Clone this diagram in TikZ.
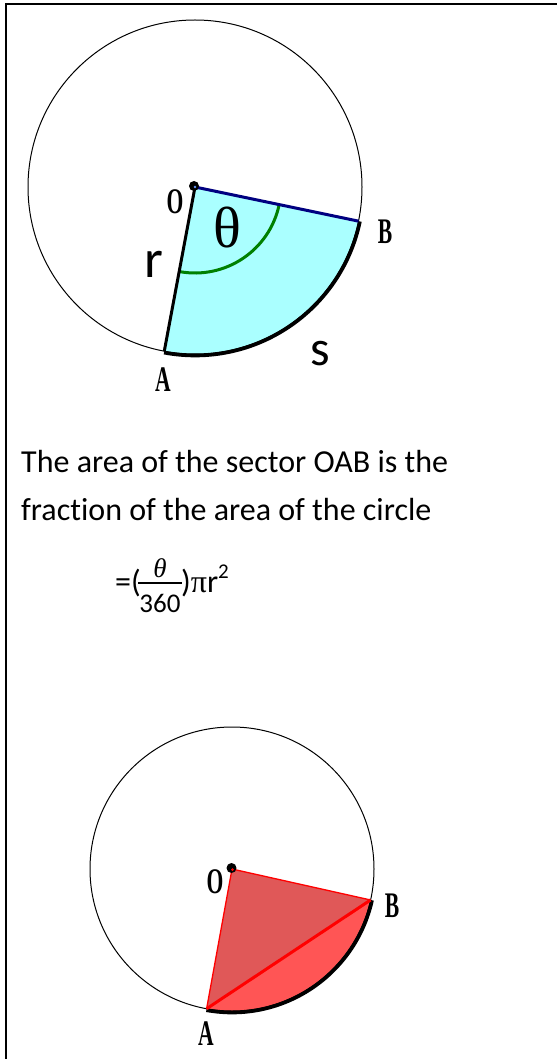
\documentclass[tikz,border=0pt]{standalone}
\usepackage{fontspec}
\usepackage{graphicx}
\usetikzlibrary{calc}
\setmainfont{Carlito}[Ligatures=NoCommon]
\newfontfamily\lblfont{Liberation Serif}
\definecolor{sectorcyan}{HTML}{AAFFFF}
\definecolor{linenavy}{HTML}{000080}
\definecolor{arcgreen}{HTML}{008000}
\definecolor{trired}{HTML}{E05858}
\definecolor{segred}{HTML}{FF5555}
\tikzset{
  ptlabel/.style={inner sep=0pt, font=\lblfont\bfseries\fontsize{36}{36}\selectfont},
  bodytext/.style={inner sep=0pt, anchor=base west, font=\fontsize{32}{32}\selectfont},
  thincircle/.style={draw=black, line width=1pt},
  arcshadow/.style={draw=black, line width=3.6pt},
}
\newcommand{\cond}[1]{\scalebox{0.6}[1]{#1}}
\begin{document}
\begin{tikzpicture}[x=1pt,y=1pt]
\useasboundingbox (0,0) rectangle (557,-1059);
% frame
\coordinate (fTL) at (6.2,-3.7);
\coordinate (fBL) at (6.2,-1059);
\coordinate (fTR) at (557,-3.7);
\draw[line width=2.3pt] (fBL) -- (fTL) -- (fTR);

% ---------- first circle ----------
\coordinate (O1) at (195,-187);
\coordinate (A1) at ($(O1)+(-100.6:167)$);
\coordinate (B1) at ($(O1)+(-11.8:167)$);
\fill[sectorcyan] (O1) -- (A1) arc[start angle=-100.6,end angle=-11.8,radius=167] -- cycle;
\draw[thincircle] (O1) circle[radius=167];
\draw[arcshadow] ($(O1)+(-100.6:168.5)$) arc[start angle=-100.6,end angle=-11.8,radius=168.5];
\draw[arcgreen, line width=3pt] ($(O1)+(-100.6:86)$) arc[start angle=-100.6,end angle=-11.8,radius=86];
\draw[black, line width=3pt] (O1) -- (A1);
\draw[linenavy, line width=3pt] (O1) -- (B1);
\fill[black] (194,-186) circle[radius=5];
\fill[sectorcyan!60!blue] (195,-187) circle[radius=1.3];
\node[ptlabel] (lO1) at (175,-202) {\cond{O}};
\node[ptlabel] (lB1) at (385,-232) {\cond{B}};
\node[ptlabel] (lA1) at (163,-380) {\cond{A}};
\node[inner sep=0pt, font=\lblfont\fontsize{58}{58}\selectfont] (th1) at (227,-228) {θ};
\node[inner sep=0pt, font=\fontsize{54}{54}\selectfont] (r1) at (154,-264) {r};
\node[inner sep=0pt, font=\fontsize{50}{50}\selectfont] (s1) at (320,-354) {s};

% ---------- text ----------
\node[bodytext] (t1) at (21,-472) {The area of the sector OAB is the};
\node[bodytext] (t2) at (21,-520) {fraction of the area of the circle};
\node[bodytext] (f1) at (115,-592) {=(};
\node[inner sep=0pt, font=\lblfont\itshape\fontsize{27}{27}\selectfont] (fnum) at (160,-568) {θ};
\coordinate (barL) at (138,-583);
\coordinate (barR) at (182,-583);
\draw[line width=2pt] (barL) -- (barR);
\node[inner sep=0pt, font=\fontsize{27}{27}\selectfont] (fden) at (160,-603) {360};
\node[bodytext, anchor=base west] (f2) at (181,-592) {){\lblfont π}r\raisebox{0.42em}{\fontsize{21}{21}\selectfont 2}};

% ---------- second circle ----------
\coordinate (O2) at (232,-869);
\coordinate (A2) at ($(O2)+(-100.3:142)$);
\coordinate (B2) at ($(O2)+(-12.6:142)$);
\fill[segred] (A2) arc[start angle=-100.3,end angle=-12.6,radius=142] -- cycle;
\fill[trired] (O2) -- (A2) -- (B2) -- cycle;
\draw[thincircle] (O2) circle[radius=142];
\draw[arcshadow] ($(O2)+(-100.3:143.5)$) arc[start angle=-100.3,end angle=-12.6,radius=143.5];
\draw[red, line width=1.3pt] (A2) -- (O2) -- (B2);
\draw[red, line width=3pt] (A2) -- (B2);
\fill[black] (231.5,-868) circle[radius=5];
\fill[red] (232.5,-869.5) circle[radius=1.5];
\node[ptlabel] (lO2) at (215,-882) {\cond{O}};
\node[ptlabel] (lB2) at (392,-906) {\cond{B}};
\node[ptlabel] (lA2) at (206,-1034) {\cond{A}};
\end{tikzpicture}
\end{document}
